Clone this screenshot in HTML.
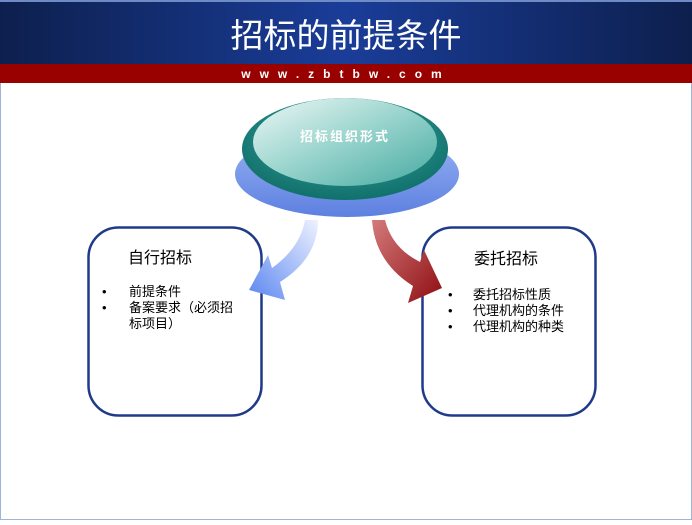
<!DOCTYPE html>
<html><head><meta charset="utf-8"><style>
body{margin:0;width:692px;height:520px;overflow:hidden;background:#fff;font-family:"Liberation Sans","Noto Sans CJK SC",sans-serif}
</style></head><body>
<svg width="692" height="520" viewBox="0 0 692 520" xmlns="http://www.w3.org/2000/svg">
<defs>
<linearGradient id="hdr" x1="0" x2="1"><stop offset="0" stop-color="#0d1f4d"/><stop offset="0.5" stop-color="#1a3d99"/><stop offset="1" stop-color="#0d1f4d"/></linearGradient>
<radialGradient id="teal" cx="0.5" cy="0.4" r="0.6"><stop offset="0" stop-color="#3aa8a0"/><stop offset="1" stop-color="#11706b"/></radialGradient>
<linearGradient id="inner" x1="0" y1="0" x2="1" y2="1"><stop offset="0" stop-color="#eef8f6"/><stop offset="0.5" stop-color="#97d3cc"/><stop offset="1" stop-color="#45aaa1"/></linearGradient>
<linearGradient id="disc" x1="0" y1="0" x2="0" y2="1"><stop offset="0" stop-color="#9ab4f4"/><stop offset="1" stop-color="#5d80e0"/></linearGradient>
<linearGradient id="ba" x1="1" y1="0" x2="0" y2="1"><stop offset="0" stop-color="#eef2ff"/><stop offset="1" stop-color="#5b86f0"/></linearGradient>
<linearGradient id="ra" x1="0" y1="0" x2="1" y2="1"><stop offset="0" stop-color="#d47a7a"/><stop offset="1" stop-color="#8e0d12"/></linearGradient>
</defs>
<rect x="0" y="0" width="692" height="520" fill="#fff" stroke="#9fb4d8" stroke-width="2"/>
<rect x="0" y="0" width="692" height="64" fill="url(#hdr)"/>
<rect x="0" y="0" width="692" height="2" fill="#6e8bc6"/>
<text x="346" y="47" text-anchor="middle" font-size="33" fill="#fff" font-family="'Liberation Sans','Noto Sans CJK SC',sans-serif">招标的前提条件</text>
<rect x="0" y="64" width="692" height="19" fill="#990000"/>
<text x="346" y="78" text-anchor="middle" font-size="12" fill="#fff" font-weight="bold" letter-spacing="9">www.zbtbw.com</text>
<ellipse cx="347" cy="174" rx="112" ry="43" fill="url(#disc)"/>
<ellipse cx="345" cy="149" rx="103" ry="51" fill="url(#teal)"/>
<ellipse cx="345" cy="142" rx="92" ry="44" fill="url(#inner)"/>
<text x="345" y="141" text-anchor="middle" font-size="13" fill="#fff" font-weight="bold" letter-spacing="2">招标组织形式</text>
<rect x="88.5" y="227.5" width="173" height="188" rx="30" fill="#fff" stroke="#1f3a8a" stroke-width="2.5"/>
<rect x="422.5" y="227.5" width="173" height="188" rx="30" fill="#fff" stroke="#1f3a8a" stroke-width="2.5"/>
<path d="M305 220 L318 220 Q318 258 280 282 L285 300 L249 290 L268 255 L272 268 Q300 248 305 220 Z" fill="url(#ba)"/>
<path d="M372 220 L385 220 Q392 248 420 262 L424 250 L442 288 L408 303 L413 286 Q375 262 372 220 Z" fill="url(#ra)"/>
<g font-size="16" fill="#000"><text x="128" y="263">自行招标</text><text x="474" y="264">委托招标</text></g>
<g font-size="13" fill="#000">
<text x="102" y="296">•</text><text x="129" y="296">前提条件</text>
<text x="102" y="312">•</text><text x="129" y="312">备案要求（必须招</text>
<text x="129" y="328">标项目）</text>
<text x="448" y="299">•</text><text x="473" y="299">委托招标性质</text>
<text x="448" y="315">•</text><text x="473" y="315">代理机构的条件</text>
<text x="448" y="331">•</text><text x="473" y="331">代理机构的种类</text>
</g>
</svg>
</body></html>
